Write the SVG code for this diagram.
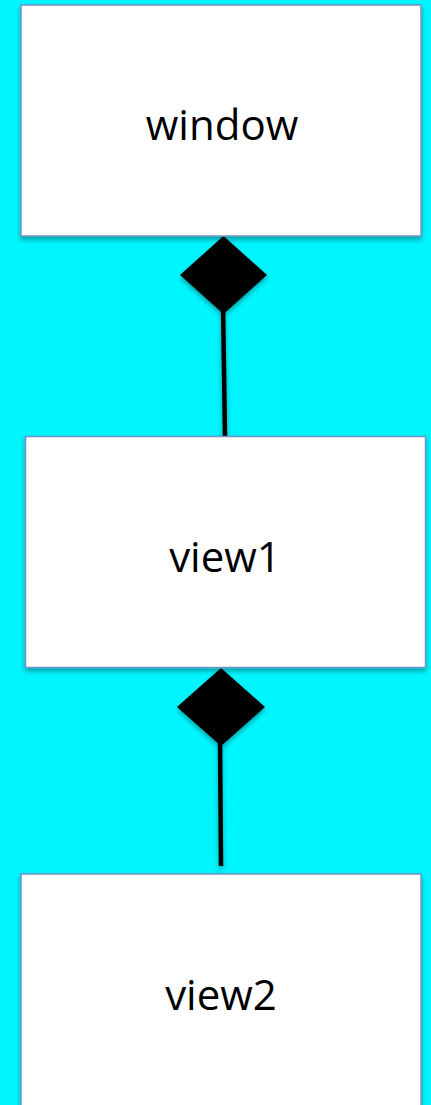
<svg xmlns="http://www.w3.org/2000/svg" width="431" height="1105" viewBox="0 0 431 1105">
<defs>
<filter id="sh" x="-10%" y="-10%" width="120%" height="130%">
<feDropShadow dx="0" dy="3" stdDeviation="2.5" flood-color="#000" flood-opacity="0.35"/>
</filter>
<style>
.box{fill:#fff;stroke:#7093c6;stroke-width:1.5;}
.lbl{font-family:"Open Sans","Noto Sans",sans-serif;font-size:42px;fill:#000;text-anchor:middle;}
.dia{fill:#000;}
.ln{stroke:#000;stroke-width:4.5;fill:none;}
</style>
</defs>
<rect width="431" height="1105" fill="#00f6ff"/>
<g id="connectors" filter="url(#sh)">
<line class="ln" x1="223" y1="305" x2="225" y2="436"/>
<polygon class="dia" points="223.5,236 267,275 223.5,314 180,275"/>
<line class="ln" x1="220" y1="738" x2="221" y2="866"/>
<polygon class="dia" points="221,668 265,707 221,746 177,707"/>
</g>
<g id="window">
<rect class="box" x="21" y="5" width="400" height="231" filter="url(#sh)"/>
<text class="lbl" x="222" y="140">window</text>
</g>
<g id="view1">
<rect class="box" x="25.5" y="436.5" width="400" height="231" filter="url(#sh)"/>
<text class="lbl" x="225" y="572">view1</text>
</g>
<g id="view2">
<rect class="box" x="21" y="874" width="400" height="240" filter="url(#sh)"/>
<text class="lbl" x="221" y="1010">view2</text>
</g>
</svg>
